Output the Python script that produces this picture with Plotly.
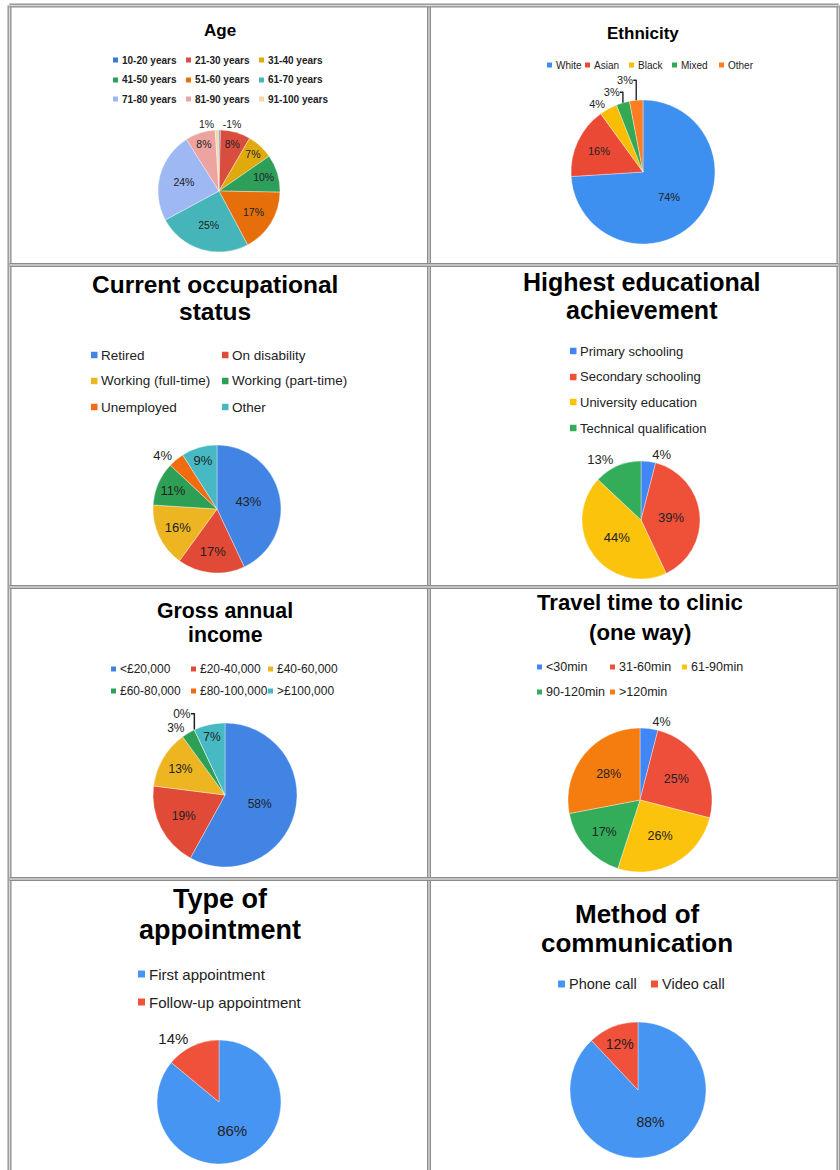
import plotly.graph_objects as go

W, H = 840, 1170
FONT = "Liberation Sans, Arial, sans-serif"

# ---------------- data ----------------
age_labels = ["10-20 years", "21-30 years", "31-40 years", "41-50 years", "51-60 years",
              "61-70 years", "71-80 years", "81-90 years", "91-100 years"]
age_values = [0.4, 8, 7, 10, 17, 25, 24, 8, 1]
age_text = ["-1%", "8%", "7%", "10%", "17%", "25%", "24%", "8%", "1%"]
age_colors = ["#3c78d8", "#d84d3e", "#e0aa0c", "#2e9e5b", "#e66f0c",
              "#46b5b9", "#9db8f2", "#eda39f", "#f6d7a7"]

eth_labels = ["White", "Asian", "Black", "Mixed", "Other"]
eth_values = [74, 16, 4, 3, 3]
eth_colors = ["#3d8ff0", "#ea4a35", "#fbbc04", "#34a853", "#ff7d22"]

occ_labels = ["Retired", "On disability", "Working (full-time)", "Working (part-time)",
              "Unemployed", "Other"]
occ_values = [43, 17, 16, 11, 4, 9]
occ_colors = ["#4184e4", "#e04a36", "#ecb521", "#2ea055", "#f06c0f", "#46b9c3"]

edu_labels = ["Primary schooling", "Secondary schooling", "University education",
              "Technical qualification"]
edu_values = [4, 39, 44, 13]
edu_colors = ["#4285f4", "#ee5038", "#fbc30c", "#34ad5b"]

inc_labels = ["<£20,000", "£20-40,000", "£40-60,000", "£60-80,000", "£80-100,000", ">£100,000"]
inc_values = [58, 19, 13, 3, 0, 7]
inc_colors = ["#4184e4", "#e04a36", "#ecb521", "#2ea055", "#f06c0f", "#46b9c3"]

trv_labels = ["<30min", "31-60min", "61-90min", "90-120min", ">120min"]
trv_values = [4, 25, 26, 17, 28]
trv_colors = ["#4285f4", "#ee4f3b", "#fbc30c", "#34ad5b", "#f57c0f"]

typ_labels = ["First appointment", "Follow-up appointment"]
typ_values = [86, 14]
typ_colors = ["#4795f2", "#f0513a"]

met_labels = ["Phone call", "Video call"]
met_values = [88, 12]
met_colors = ["#4795f2", "#f0513a"]

def pct(vals):
    return [f"{round(v)}%" for v in vals]

# ---------------- panel layout (pixel positions) ----------------
panels = [
    dict(labels=age_labels, values=age_values, text=age_text, colors=age_colors,
         cx=219, cy=191, r=61, tsize=10.5,
         pos=["outside", "inside", "inside", "inside", "inside", "inside", "inside", "inside", "outside"],
         title=[("Age", 30)], tx=220, tfs=17,
         lcols=[113, 186, 259], lrows=[60, 80, 99], lsq=5, lfs=10, lbold=True),
    dict(labels=eth_labels, values=eth_values, text=pct(eth_values), colors=eth_colors,
         cx=643, cy=172, r=72, tsize=11,
         pos=["inside", "inside", "outside", "outside", "outside"],
         title=[("Ethnicity", 33)], tx=643, tfs=17,
         lcols=[547, 585, 629, 672, 719], lrows=[65], lsq=5, lfs=10, lbold=False),
    dict(labels=occ_labels, values=occ_values, text=pct(occ_values), colors=occ_colors,
         cx=217, cy=509, r=64, tsize=13,
         pos=["inside", "inside", "inside", "inside", "outside", "inside"],
         title=[("Current occupational", 284), ("status", 312)], tx=215, tfs=24.5,
         lcols=[91, 222], lrows=[355, 381, 407], lsq=6.5, lfs=13.5, lbold=False),
    dict(labels=edu_labels, values=edu_values, text=pct(edu_values), colors=edu_colors,
         cx=641, cy=520, r=59, tsize=13,
         pos=["outside", "inside", "inside", "outside"],
         title=[("Highest educational", 282), ("achievement", 310)], tx=642, tfs=25,
         lcols=[570], lrows=[351, 377, 402, 428], lsq=6.5, lfs=13, lbold=False),
    dict(labels=inc_labels, values=inc_values, text=pct(inc_values), colors=inc_colors,
         cx=225, cy=795, r=72, tsize=12,
         pos=["inside", "inside", "inside", "outside", "outside", "inside"],
         title=[("Gross annual", 611), ("income", 635)], tx=225, tfs=21.3,
         lcols=[111, 191, 268], lrows=[669, 691], lsq=5, lfs=12, lbold=False),
    dict(labels=trv_labels, values=trv_values, text=pct(trv_values), colors=trv_colors,
         cx=640, cy=800, r=72, tsize=12.5,
         pos=["outside", "inside", "inside", "inside", "inside"],
         title=[("Travel time to clinic", 603), ("(one way)", 632)], tx=640, tfs=22.2,
         lcols=[537, 610, 682], lrows=[667, 692], lsq=5, lfs=12.5, lbold=False),
    dict(labels=typ_labels, values=typ_values, text=pct(typ_values), colors=typ_colors,
         cx=219, cy=1102, r=62, tsize=15,
         pos=["inside", "outside"],
         title=[("Type of", 899), ("appointment", 930)], tx=220, tfs=27,
         lcols=[138], lrows=[974, 1002], lsq=7, lfs=15, lbold=False),
    dict(labels=met_labels, values=met_values, text=pct(met_values), colors=met_colors,
         cx=638, cy=1090, r=68, tsize=14,
         pos=["inside", "inside"],
         title=[("Method of", 914), ("communication", 943)], tx=637, tfs=26,
         lcols=[558, 651], lrows=[984], lsq=7, lfs=14.5, lbold=False),
]

def X(px):
    return px / W

def Y(py):
    return 1 - py / H

fig = go.Figure()
annotations = []
shapes = []

for p in panels:
    fig.add_trace(go.Pie(
        labels=p["labels"], values=p["values"], text=p["text"],
        textinfo="text", textposition=p["pos"],
        insidetextorientation="horizontal",
        sort=False, direction="clockwise", rotation=0,
        marker=dict(colors=p["colors"], line=dict(color="rgba(255,255,255,0.6)", width=0.6)),
        textfont=dict(family=FONT, size=p["tsize"], color="#222222"),
        insidetextfont=dict(family=FONT, size=p["tsize"], color="#222222"),
        outsidetextfont=dict(family=FONT, size=p["tsize"], color="#222222"),
        domain=dict(x=[X(p["cx"] - p["r"]), X(p["cx"] + p["r"])],
                    y=[Y(p["cy"] + p["r"]), Y(p["cy"] - p["r"])]),
        showlegend=False, hoverinfo="label+percent",
    ))
    # title
    for line, ty in p["title"]:
        annotations.append(dict(
            x=X(p["tx"]), y=Y(ty), xref="paper", yref="paper", text=f"<b>{line}</b>",
            showarrow=False, xanchor="center", yanchor="middle",
            font=dict(family=FONT, size=p["tfs"], color="#000000")))
    # legend
    ncol = len(p["lcols"])
    s = p["lsq"]
    for i, (lab, col) in enumerate(zip(p["labels"], p["colors"])):
        lx = p["lcols"][i % ncol]
        ly = p["lrows"][i // ncol]
        shapes.append(dict(type="rect", xref="paper", yref="paper",
                           x0=X(lx), x1=X(lx + s), y0=Y(ly + s / 2), y1=Y(ly - s / 2),
                           fillcolor=col, line=dict(width=0)))
        txt = f"<b>{lab}</b>" if p["lbold"] else lab
        annotations.append(dict(
            x=X(lx + s + 1.5), y=Y(ly), xref="paper", yref="paper", text=txt,
            showarrow=False, xanchor="left", yanchor="middle",
            font=dict(family=FONT, size=p["lfs"], color="#222222")))

# table borders (double grey lines)
vlines = [9.5, 429, 838.5]
hlines = [5.5, 265, 587, 879]
for vx in vlines:
    shapes.append(dict(type="line", xref="paper", yref="paper", x0=X(vx), x1=X(vx),
                       y0=Y(5.5), y1=0, line=dict(color="#8c8c8c", width=4), layer="above"))
    shapes.append(dict(type="line", xref="paper", yref="paper", x0=X(vx), x1=X(vx),
                       y0=Y(5.5), y1=0, line=dict(color="#d6d6d6", width=1.5), layer="above"))
for hy in hlines:
    shapes.append(dict(type="line", xref="paper", yref="paper", x0=X(9.5), x1=X(838.5),
                       y0=Y(hy), y1=Y(hy), line=dict(color="#8c8c8c", width=4), layer="above"))
    shapes.append(dict(type="line", xref="paper", yref="paper", x0=X(9.5), x1=X(838.5),
                       y0=Y(hy), y1=Y(hy), line=dict(color="#d6d6d6", width=1.5), layer="above"))

fig.update_layout(
    width=W, height=H, margin=dict(l=0, r=0, t=0, b=0),
    paper_bgcolor="white", plot_bgcolor="white",
    annotations=annotations, shapes=shapes, showlegend=False,
    font=dict(family=FONT),
)

fig.write_html("out.html", include_plotlyjs=True, full_html=True,
               config={"displayModeBar": False})
